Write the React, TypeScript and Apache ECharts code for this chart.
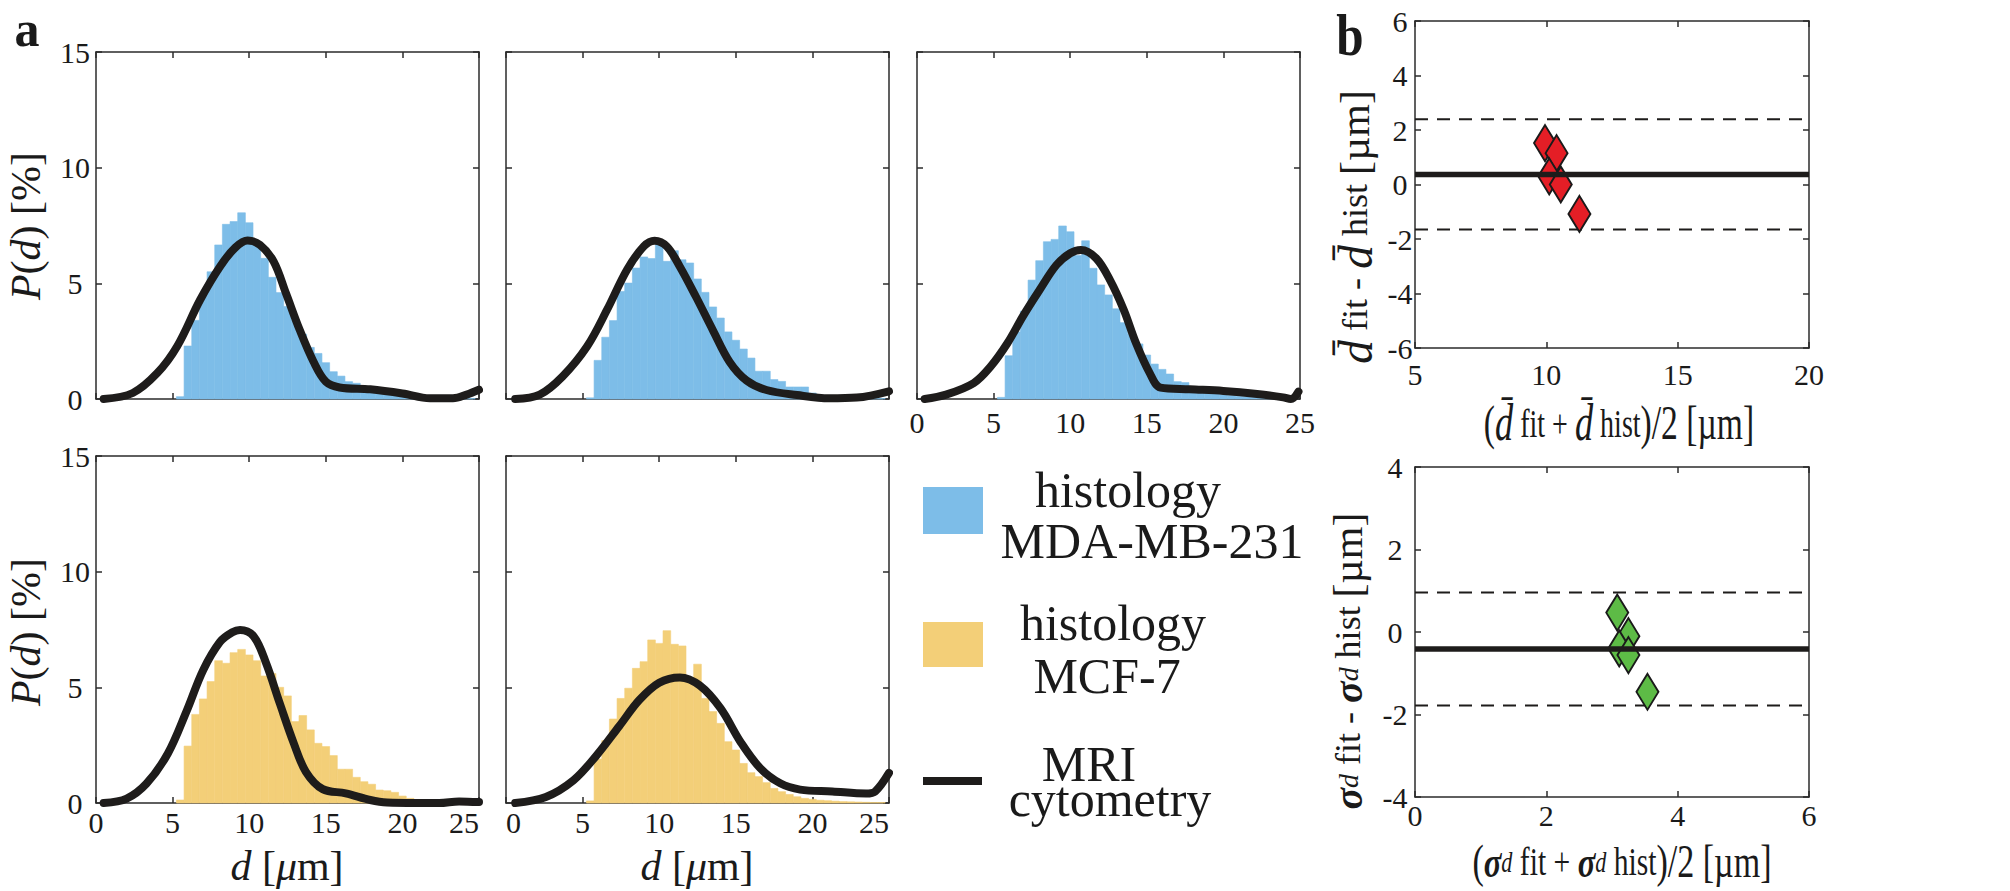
import React, { useEffect, useRef } from "react";
import * as echarts from "echarts";

// ---------------- data ----------------
// histogram bin centres (µm), bin width 0.5 µm
const binCenters = [5.5, 6, 6.5, 7, 7.5, 8, 8.5, 9, 9.5, 10, 10.5, 11, 11.5, 12, 12.5, 13, 13.5, 14, 14.5, 15, 15.5, 16, 16.5, 17, 17.5, 18, 18.5, 19, 19.5, 20, 20.5, 21, 21.5, 22, 22.5, 23, 23.5, 24, 24.5];
const binWidth = 0.5;

const histMDA1 = [0.1, 2.29, 3.4, 4.54, 5.5, 6.66, 7.55, 7.67, 8.05, 7.62, 6.8, 6.08, 5.26, 4.6, 4.0, 3.4, 2.8, 2.23, 1.97, 1.57, 1.18, 0.99, 0.75, 0.68, 0.5, 0.4, 0.35, 0.3, 0.25, 0.2, 0.15, 0.12, 0.1, 0.08, 0.06, 0.05, 0.04, 0.03, 0.02];
const histMDA2 = [0.05, 1.67, 2.67, 3.39, 4.65, 5.01, 5.66, 6.14, 6.07, 6.67, 5.95, 6.41, 6.02, 5.88, 5.19, 4.61, 3.98, 3.5, 2.9, 2.54, 2.16, 1.77, 1.2, 1.2, 0.84, 0.76, 0.52, 0.52, 0.52, 0.26, 0.15, 0.12, 0.1, 0.08, 0.06, 0.05, 0.04, 0.03, 0.02];
const histMDA3 = [0.07, 1.87, 2.9, 3.8, 5.14, 5.98, 6.8, 6.9, 7.48, 7.23, 6.2, 6.84, 5.65, 4.93, 4.5, 3.9, 3.3, 2.8, 2.38, 1.9, 1.51, 1.28, 1.08, 0.75, 0.71, 0.5, 0.35, 0.3, 0.25, 0.2, 0.15, 0.12, 0.1, 0.08, 0.06, 0.05, 0.04, 0.03, 0.02];
const histMCF1 = [0.13, 2.46, 3.83, 4.5, 5.25, 6.15, 6.04, 6.5, 6.64, 6.4, 6.15, 5.49, 5.6, 5.0, 4.63, 3.52, 3.78, 3.16, 2.58, 2.44, 2.05, 1.46, 1.46, 1.11, 0.92, 0.81, 0.56, 0.53, 0.46, 0.3, 0.2, 0.15, 0.1, 0.08, 0.06, 0.05, 0.04, 0.03, 0.02];
const histMCF2 = [0.09, 1.9, 2.7, 3.63, 4.52, 4.96, 5.82, 6.11, 7.05, 6.9, 7.45, 6.86, 6.79, 5.4, 6.0, 4.52, 3.95, 3.44, 2.65, 2.29, 1.71, 1.31, 1.14, 0.88, 0.63, 0.49, 0.37, 0.27, 0.2, 0.16, 0.12, 0.1, 0.08, 0.06, 0.05, 0.04, 0.03, 0.02, 0.02];

// MRI cytometry curves
const curve1X = [0.5, 2.4, 4.0, 5.3, 6.8, 8.1, 9.1, 9.9, 10.7, 11.6, 12.4, 13.3, 14.2, 15.0, 15.9, 17.9, 20.0, 21.8, 23.3, 24.2, 25.0];
const curve1Y = [0.0, 0.26, 1.12, 2.28, 4.29, 5.73, 6.55, 6.85, 6.66, 5.94, 4.57, 2.98, 1.61, 0.75, 0.5, 0.42, 0.24, 0.03, 0.03, 0.19, 0.4];
const curve2X = [0.6, 2.2, 3.7, 5.3, 6.6, 7.9, 9.0, 9.7, 10.5, 11.35, 12.4, 13.5, 14.6, 15.7, 17.0, 19.0, 21.1, 22.9, 25.0];
const curve2Y = [0.0, 0.19, 0.98, 2.28, 3.86, 5.59, 6.6, 6.84, 6.59, 5.72, 4.42, 2.98, 1.6, 0.8, 0.39, 0.17, 0.03, 0.06, 0.33];
const curve3X = [0.5, 1.9, 3.7, 4.8, 5.9, 6.9, 8.0, 9.1, 10.0, 10.7, 11.7, 12.6, 13.5, 14.3, 15.2, 15.9, 17.8, 20.0, 22.2, 23.9, 24.4, 24.9];
const curve3Y = [0.0, 0.19, 0.69, 1.4, 2.41, 3.56, 4.71, 5.79, 6.3, 6.44, 6.08, 5.14, 3.85, 2.41, 1.11, 0.49, 0.42, 0.35, 0.22, 0.07, 0.0, 0.32];
const curve4X = [0.5, 2.0, 3.3, 4.7, 5.9, 7.0, 8.1, 8.9, 9.4, 10.3, 11.1, 12.0, 12.9, 13.7, 14.8, 16.3, 17.9, 19.0, 20.9, 22.4, 23.7, 25.0];
const curve4Y = [0.0, 0.19, 0.84, 2.15, 3.95, 5.75, 6.97, 7.38, 7.48, 7.2, 6.05, 4.3, 2.6, 1.35, 0.6, 0.42, 0.13, 0.02, 0.0, 0.0, 0.07, 0.04];
const curve5X = [0.6, 2.6, 4.4, 5.9, 7.4, 8.7, 10.0, 11.35, 12.65, 14.0, 15.3, 16.6, 17.9, 19.2, 21.3, 23.5, 24.1, 25.0];
const curve5Y = [0.0, 0.26, 0.98, 2.05, 3.33, 4.45, 5.2, 5.43, 5.08, 4.1, 2.65, 1.5, 0.85, 0.58, 0.5, 0.41, 0.5, 1.3];

// Bland-Altman: mean diameter
const meanAvg = [9.95, 10.39, 10.11, 10.55, 11.26];
const meanDiff = [1.52, 1.15, 0.3, 0.0, -1.08];
// Bland-Altman: sigma
const sigmaAvg = [3.08, 3.25, 3.11, 3.25, 3.54];
const sigmaDiff = [0.47, -0.1, -0.4, -0.56, -1.45];
// bias and limits of agreement [mean panel, sigma panel]
const biasLine = [0.37, -0.41];
const loaUpper = [2.39, 0.96];
const loaLower = [-1.65, -1.78];

const legendLabels = [["histology", "MDA-MB-231"], ["histology", "MCF-7"], ["MRI", "cytometry"]];

// ---------------- style ----------------
const FONT = "'Liberation Serif', 'Times New Roman', serif";
const TXT = "#1a1a1a";
const AXC = "#2b2b2b";
const BLUE = "#7dbde8";
const ORANGE = "#f3cf78";
const BLACK = "#1e1c1b";
const RED = "#e41e26";
const GREEN = "#5dbb46";

function buildOption() {
  const grid = [
    { left: 96, top: 52, width: 383, height: 347 },
    { left: 506, top: 52, width: 383, height: 347 },
    { left: 917, top: 52, width: 383, height: 347 },
    { left: 96, top: 456, width: 383, height: 347 },
    { left: 506, top: 456, width: 383, height: 347 },
    { left: 1415, top: 21, width: 394, height: 327 },
    { left: 1415, top: 467, width: 394, height: 330 },
  ];
  const xAxis: any[] = [];
  const yAxis: any[] = [];
  const series: any[] = [];
  const AX = { color: AXC, width: 1.5 };
  const baseAxis = (gi: number, r: number[]) => ({
    type: "value",
    gridIndex: gi,
    min: r[0],
    max: r[1],
    interval: r[2],
    axisLine: { show: true, onZero: false, lineStyle: AX },
    axisTick: { show: true, inside: true, length: 6, lineStyle: AX },
    splitLine: { show: false },
  });
  const label = (extra: any) =>
    extra
      ? { show: true, fontSize: 30, fontFamily: "Liberation Serif", color: TXT, showMinLabel: true, showMaxLabel: true, ...extra }
      : { show: false };
  const addAxes = (gi: number, xr: number[], yr: number[], xl: any, yl: any) => {
    xAxis.push({ ...baseAxis(gi, xr), position: "bottom", axisLabel: label(xl) });
    xAxis.push({ ...baseAxis(gi, xr), position: "top", axisLabel: { show: false } });
    yAxis.push({ ...baseAxis(gi, yr), position: "left", axisLabel: label(yl) });
    yAxis.push({ ...baseAxis(gi, yr), position: "right", axisLabel: { show: false } });
  };

  const panelsA = [
    { hist: histMDA1, color: BLUE, cx: curve1X, cy: curve1Y, xl: null, yl: { margin: 21, align: "center" } },
    { hist: histMDA2, color: BLUE, cx: curve2X, cy: curve2Y, xl: null, yl: null },
    { hist: histMDA3, color: BLUE, cx: curve3X, cy: curve3Y, xl: { margin: 8 }, yl: null },
    { hist: histMCF1, color: ORANGE, cx: curve4X, cy: curve4Y, xl: { margin: 4, alignMaxLabel: "right" }, yl: { margin: 21, align: "center" } },
    { hist: histMCF2, color: ORANGE, cx: curve5X, cy: curve5Y, xl: { margin: 4, alignMinLabel: "left", alignMaxLabel: "right" }, yl: null },
  ];

  panelsA.forEach((p, gi) => {
    addAxes(gi, [0, 25, 5], [0, 15, 5], p.xl, p.yl);
    const fill = p.color;
    series.push({
      type: "custom",
      coordinateSystem: "cartesian2d",
      xAxisIndex: gi * 2,
      yAxisIndex: gi * 2,
      data: binCenters.map((c, i) => [c, p.hist[i]]),
      encode: { x: 0, y: 1 },
      z: 1,
      renderItem: (params: any, api: any) => {
        const c = api.value(0);
        const h = api.value(1);
        const a = api.coord([c - binWidth / 2, h]);
        const b = api.coord([c + binWidth / 2, 0]);
        return {
          type: "rect",
          shape: { x: a[0], y: a[1], width: b[0] - a[0], height: b[1] - a[1] },
          style: { fill, stroke: fill, lineWidth: 0.6 },
        };
      },
    });
    series.push({
      type: "line",
      xAxisIndex: gi * 2,
      yAxisIndex: gi * 2,
      data: p.cx.map((x, i) => [x, p.cy[i]]),
      smooth: 0.35,
      symbol: "none",
      clip: false,
      z: 3,
      lineStyle: { color: BLACK, width: 8, cap: "round", join: "round" },
    });
  });

  // panel b
  const panelsB = [
    { gi: 5, xr: [5, 20, 5], yr: [-6, 6, 2], xs: meanAvg, ys: meanDiff, color: RED, xl: { margin: 11 }, yl: { margin: 15, align: "center" } },
    { gi: 6, xr: [0, 6, 2], yr: [-4, 4, 2], xs: sigmaAvg, ys: sigmaDiff, color: GREEN, xl: { margin: 3 }, yl: { margin: 20, align: "center" } },
  ];
  panelsB.forEach((p, k) => {
    addAxes(p.gi, p.xr, p.yr, p.xl, p.yl);
    const xi = p.gi * 2;
    series.push({
      type: "scatter",
      xAxisIndex: xi,
      yAxisIndex: xi,
      data: p.xs.map((x, i) => [x, p.ys[i]]),
      symbol: "diamond",
      symbolSize: [22, 36],
      itemStyle: { color: p.color, borderColor: "#1a1a1a", borderWidth: 2, opacity: 1 },
      z: 3,
    });
    const hline = (v: number, style: any, z: number) => ({
      type: "line",
      xAxisIndex: xi,
      yAxisIndex: xi,
      data: [[p.xr[0], v], [p.xr[1], v]],
      symbol: "none",
      z,
      lineStyle: style,
    });
    series.push(hline(biasLine[k], { color: BLACK, width: 5.5 }, 4));
    series.push(hline(loaUpper[k], { color: BLACK, width: 2, type: [13, 9] }, 2));
    series.push(hline(loaLower[k], { color: BLACK, width: 2, type: [13, 9] }, 2));
  });

  const n = (size: number) => ({ fontFamily: FONT, fontSize: size, fill: TXT });
  const it = (size: number) => ({ fontFamily: FONT, fontSize: size, fontStyle: "italic", fill: TXT });
  const bi = (size: number) => ({ fontFamily: FONT, fontSize: size, fontStyle: "italic", fontWeight: "bold", fill: TXT });
  const text = (x: number, y: number, txt: string, rich: any, opts: any = {}) => ({
    type: "text",
    x,
    y,
    rotation: opts.rot ? Math.PI / 2 : 0,
    scaleX: opts.sx ?? 1,
    scaleY: opts.sy ?? 1,
    style: {
      text: txt,
      fontFamily: FONT,
      fontSize: opts.size ?? 40,
      fontWeight: opts.weight ?? "normal",
      lineHeight: opts.lh,
      fill: TXT,
      align: "center",
      verticalAlign: "middle",
      rich,
    },
  });

  const richA = { i: it(42), n: n(42) };
  const pLabel = "{i|P}{n|(}{i|d}{n|) [%]}";
  const dLabel = "{i|d}{n| [}{i|μ}{n|m]}";
  const D = "d\u0304";
  const richBy = { d: it(48), s: n(36), u: n(42), g: bi(40), q: it(28) };
  const richBx1 = { d: it(52), s: n(40), p: n(48) };
  const richBx2 = { g: bi(44), q: it(30), s: n(40), p: n(46) };
  const richMRI = {
    m: { ...n(50), lineHeight: 35, padding: [0, 42, 0, 0] },
    c: { ...n(50), lineHeight: 35 },
  };

  const graphic: any[] = [
    text(27, 29, "a", undefined, { size: 50, weight: "bold" }),
    text(1350, 35, "b", undefined, { size: 60, weight: "bold", sx: 0.82 }),
    text(26, 226, pLabel, richA, { rot: true }),
    text(26, 632, pLabel, richA, { rot: true }),
    text(287, 866, dLabel, richA),
    text(697, 866, dLabel, richA),
    text(1355, 227, `{d|${D}}{s| fit - }{d|${D}}{s| hist }{u|[µm]}`, richBy, { rot: true }),
    text(1619, 423, `{p|(}{d|${D}}{s| fit + }{d|${D}}{s| hist}{p|)/2 [µm]}`, richBx1, { sx: 0.7 }),
    text(1348, 661, `{g|σ}{q|d}{s| fit - }{g|σ}{q|d}{s| hist }{u|[µm]}`, richBy, { rot: true }),
    text(1622, 862, `{p|(}{g|σ}{q|d}{s| fit + }{g|σ}{q|d}{s| hist}{p|)/2 [µm]}`, richBx2, { sx: 0.74 }),
    // legend
    { type: "rect", shape: { x: 923, y: 487, width: 60, height: 47 }, style: { fill: BLUE } },
    { type: "rect", shape: { x: 923, y: 622, width: 60, height: 45 }, style: { fill: ORANGE } },
    { type: "rect", shape: { x: 923, y: 777, width: 59, height: 8 }, style: { fill: BLACK } },
    text(1128, 490, legendLabels[0][0], undefined, { size: 50 }),
    text(1152, 541, legendLabels[0][1], undefined, { size: 50 }),
    text(1113, 623, legendLabels[1][0], undefined, { size: 50 }),
    text(1107, 676, legendLabels[1][1], undefined, { size: 50 }),
    text(1110, 781, `{m|${legendLabels[2][0]}}\n{c|${legendLabels[2][1]}}`, richMRI, { size: 50 }),
  ];

  return {
    animation: false,
    backgroundColor: "#ffffff",
    grid,
    xAxis,
    yAxis,
    series,
    graphic,
  };
}

export default function App() {
  const ref = useRef<HTMLDivElement>(null);
  useEffect(() => {
    document.body.style.margin = "0";
    const chart = echarts.init(ref.current as HTMLDivElement, null, { renderer: "svg", width: 2010, height: 891 });
    chart.setOption(buildOption() as any);
    return () => chart.dispose();
  }, []);
  return (
    <div
      ref={ref}
      style={{ position: "absolute", left: 0, top: 0, width: 2010, height: 891, background: "#fff" }}
    />
  );
}
